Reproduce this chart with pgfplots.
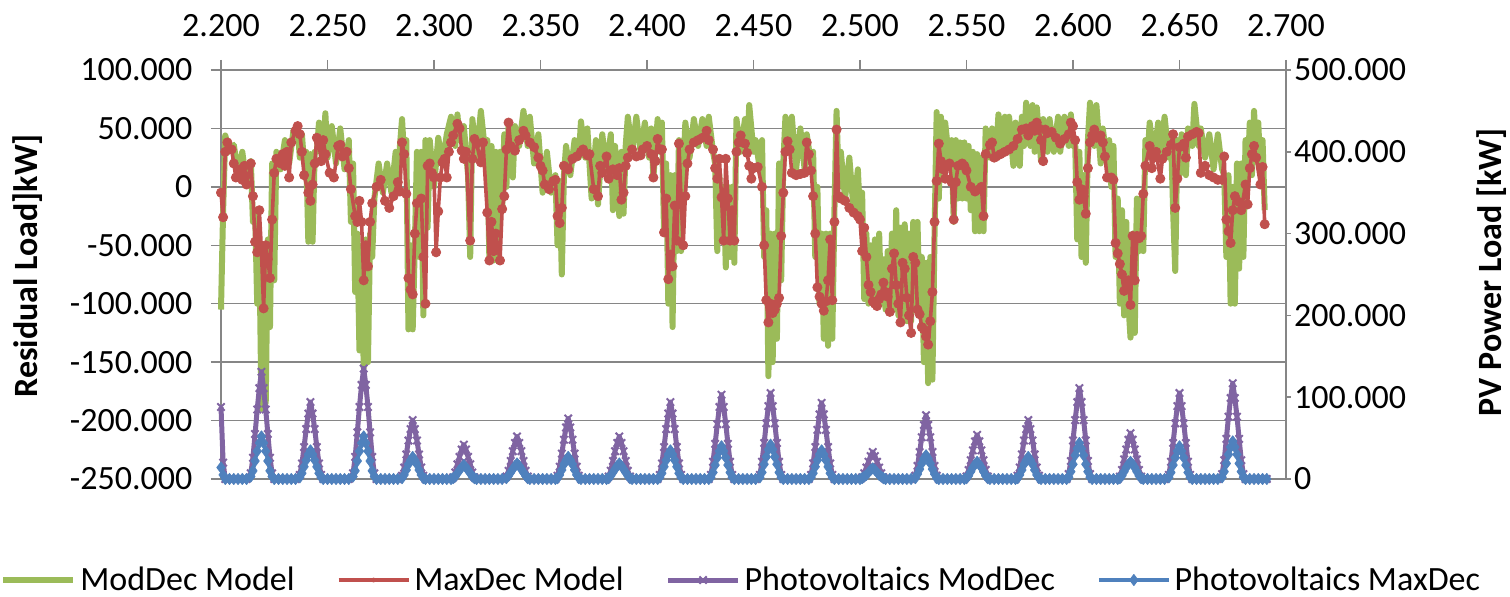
\documentclass[border=0pt]{standalone}
\usepackage{fontspec}
\setmainfont{Carlito}
\usepackage{pgfplots}
\usepackage{pgfplotstable}
\pgfplotsset{compat=1.18}

\definecolor{modgreen}{RGB}{155,187,89}
\definecolor{maxred}{RGB}{192,80,77}
\definecolor{pvpurple}{RGB}{128,100,162}
\definecolor{pvblue}{RGB}{79,129,189}
\definecolor{gridgray}{RGB}{134,134,134}

% hourly PV output, ModDec (p) and MaxDec (b), in kW
\pgfplotstableread{
h p b
2200 88000 14000
2201 20000 5000
2202 0 0
2204 0 0
2206 0 0
2208 0 0
2210 0 0
2212 0 0
2214 7000 3000
2215 26000 10000
2216 55000 22000
2217 85000 34000
2218 111000 44000
2219 131000 52000
2220 111000 44000
2221 85000 34000
2222 55000 22000
2223 26000 10000
2224 7000 3000
2225 0 0
2227 0 0
2229 0 0
2231 0 0
2233 0 0
2235 0 0
2237 5000 2000
2238 19000 7000
2239 39000 15000
2240 61000 23000
2241 80000 30000
2242 94000 35000
2243 80000 30000
2244 61000 23000
2245 39000 15000
2246 19000 7000
2247 5000 2000
2248 0 0
2250 0 0
2252 0 0
2254 0 0
2256 0 0
2258 0 0
2260 0 0
2262 7000 3000
2263 27000 10000
2264 57000 22000
2265 88000 34000
2266 115000 44000
2267 135000 52000
2268 115000 44000
2269 88000 34000
2270 57000 22000
2271 27000 10000
2272 7000 3000
2273 0 0
2275 0 0
2277 0 0
2279 0 0
2281 0 0
2283 0 0
2285 4000 1000
2286 14000 5000
2287 30000 11000
2288 47000 18000
2289 61000 23000
2290 72000 27000
2291 61000 23000
2292 47000 18000
2293 30000 11000
2294 14000 5000
2295 4000 1000
2296 0 0
2298 0 0
2300 0 0
2302 0 0
2304 0 0
2306 0 0
2308 0 0
2309 2000 1000
2310 8000 3000
2311 18000 7000
2312 27000 11000
2313 36000 14000
2314 42000 17000
2315 36000 14000
2316 27000 11000
2317 18000 7000
2318 8000 3000
2319 2000 1000
2320 0 0
2322 0 0
2324 0 0
2326 0 0
2328 0 0
2330 0 0
2332 0 0
2334 3000 1000
2335 10000 4000
2336 22000 8000
2337 34000 12000
2338 44000 16000
2339 52000 19000
2340 44000 16000
2341 34000 12000
2342 22000 8000
2343 10000 4000
2344 3000 1000
2345 0 0
2347 0 0
2349 0 0
2351 0 0
2353 0 0
2355 0 0
2357 0 0
2358 4000 1000
2359 15000 5000
2360 31000 11000
2361 48000 18000
2362 63000 23000
2363 74000 27000
2364 63000 23000
2365 48000 18000
2366 31000 11000
2367 15000 5000
2368 4000 1000
2369 0 0
2371 0 0
2373 0 0
2375 0 0
2377 0 0
2379 0 0
2381 0 0
2382 3000 1000
2383 10000 4000
2384 22000 8000
2385 34000 12000
2386 44000 16000
2387 52000 19000
2388 44000 16000
2389 34000 12000
2390 22000 8000
2391 10000 4000
2392 3000 1000
2393 0 0
2395 0 0
2397 0 0
2399 0 0
2401 0 0
2403 0 0
2405 0 0
2406 5000 2000
2407 19000 7000
2408 39000 15000
2409 61000 23000
2410 80000 30000
2411 94000 35000
2412 80000 30000
2413 61000 23000
2414 39000 15000
2415 19000 7000
2416 5000 2000
2417 0 0
2419 0 0
2421 0 0
2423 0 0
2425 0 0
2427 0 0
2429 0 0
2430 5000 2000
2431 21000 8000
2432 43000 17000
2433 67000 26000
2434 88000 34000
2435 103000 40000
2436 88000 34000
2437 67000 26000
2438 43000 17000
2439 21000 8000
2440 5000 2000
2441 0 0
2443 0 0
2445 0 0
2447 0 0
2449 0 0
2451 0 0
2453 5000 2000
2454 21000 8000
2455 44000 18000
2456 68000 27000
2457 89000 36000
2458 105000 42000
2459 89000 36000
2460 68000 27000
2461 44000 18000
2462 21000 8000
2463 5000 2000
2464 0 0
2466 0 0
2468 0 0
2470 0 0
2472 0 0
2474 0 0
2476 0 0
2477 5000 2000
2478 19000 7000
2479 39000 15000
2480 60000 23000
2481 79000 30000
2482 93000 35000
2483 79000 30000
2484 60000 23000
2485 39000 15000
2486 19000 7000
2487 5000 2000
2488 0 0
2490 0 0
2492 0 0
2494 0 0
2496 0 0
2498 0 0
2500 0 0
2501 2000 1000
2502 7000 3000
2503 14000 5000
2504 21000 8000
2505 28000 11000
2506 33000 13000
2507 28000 11000
2508 21000 8000
2509 14000 5000
2510 7000 3000
2511 2000 1000
2512 0 0
2514 0 0
2516 0 0
2518 0 0
2520 0 0
2522 0 0
2524 0 0
2526 4000 1000
2527 16000 6000
2528 33000 12000
2529 51000 19000
2530 66000 25000
2531 78000 29000
2532 66000 25000
2533 51000 19000
2534 33000 12000
2535 16000 6000
2536 4000 1000
2537 0 0
2539 0 0
2541 0 0
2543 0 0
2545 0 0
2547 0 0
2549 0 0
2550 3000 1000
2551 11000 4000
2552 23000 9000
2553 35000 14000
2554 46000 18000
2555 54000 21000
2556 46000 18000
2557 35000 14000
2558 23000 9000
2559 11000 4000
2560 3000 1000
2561 0 0
2563 0 0
2565 0 0
2567 0 0
2569 0 0
2571 0 0
2573 0 0
2574 4000 1000
2575 14000 5000
2576 30000 11000
2577 47000 18000
2578 61000 23000
2579 72000 27000
2580 61000 23000
2581 47000 18000
2582 30000 11000
2583 14000 5000
2584 4000 1000
2585 0 0
2587 0 0
2589 0 0
2591 0 0
2593 0 0
2595 0 0
2597 0 0
2598 6000 2000
2599 22000 9000
2600 47000 18000
2601 72000 29000
2602 94000 37000
2603 111000 44000
2604 94000 37000
2605 72000 29000
2606 47000 18000
2607 22000 9000
2608 6000 2000
2609 0 0
2611 0 0
2613 0 0
2615 0 0
2617 0 0
2619 0 0
2621 0 0
2622 3000 1000
2623 11000 4000
2624 24000 9000
2625 36000 14000
2626 48000 18000
2627 56000 21000
2628 48000 18000
2629 36000 14000
2630 24000 9000
2631 11000 4000
2632 3000 1000
2633 0 0
2635 0 0
2637 0 0
2639 0 0
2641 0 0
2643 0 0
2645 5000 2000
2646 21000 8000
2647 44000 17000
2648 68000 26000
2649 89000 34000
2650 105000 40000
2651 89000 34000
2652 68000 26000
2653 44000 17000
2654 21000 8000
2655 5000 2000
2656 0 0
2658 0 0
2660 0 0
2662 0 0
2664 0 0
2666 0 0
2668 0 0
2670 6000 2000
2671 23000 9000
2672 49000 19000
2673 76000 30000
2674 99000 39000
2675 117000 46000
2676 99000 39000
2677 76000 30000
2678 49000 19000
2679 23000 9000
2680 6000 2000
2681 0 0
2683 0 0
2685 0 0
2687 0 0
2689 0 0
2691 0 0
}\pvdata

\pgfplotsset{
  greenline/.style={modgreen, line width=3pt, line join=round, no markers},
  redline/.style={maxred, line width=1.8pt, line join=round, mark=*, mark size=2.3pt,
    mark options={fill=maxred, draw=maxred, line width=0.4pt}},
  purpleline/.style={pvpurple, line width=2.5pt, line join=round, mark=x, mark size=2.6pt,
    mark options={line width=1pt}},
  blueline/.style={pvblue, line width=1.8pt, line join=round, mark=diamond*, mark size=2.8pt,
    mark options={fill=pvblue, draw=pvblue, line width=0.4pt}},
  common/.style={
    at={(0,0)}, anchor=south west,
    width=532.5pt, height=204.5pt, scale only axis,
    xmin=2200, xmax=2700, clip=false,
    tick label style={font=\fontsize{17}{20}\selectfont},
    /pgf/number format/fixed,
    /pgf/number format/precision=0,
    /pgf/number format/1000 sep={.},
    /pgf/number format/assume math mode=true,
    scaled ticks=false,
    tick align=outside,
    axis line style={gridgray, line width=0.75pt},
    tick style={gridgray, line width=0.75pt},
  },
}

\begin{document}
\begin{tikzpicture}
\useasboundingbox (-110.5pt,-59pt) rectangle (644.5pt,239.5pt);

\begin{axis}[common,
  ymin=-250000, ymax=100000,
  ytick={-250000,-200000,-150000,-100000,-50000,0,50000,100000},
  xtick={2200,2250,2300,2350,2400,2450,2500,2550,2600,2650,2700},
  xtick pos=right, xticklabel pos=right,
  ytick pos=left, yticklabel pos=left,
  major tick length=5pt,
  ymajorgrids, grid style={gridgray, line width=0.75pt},
  xticklabel style={yshift=8pt},
  yticklabel style={xshift=-5.8pt},
  ylabel={Residual Load]kW]},
  ylabel style={at={(axis description cs:-0.1812,0.521)}, anchor=center,
    font=\bfseries\fontsize{17}{20}\selectfont},
]
\addplot[greenline] coordinates {
(2200,-105000)(2201,-20000)(2202,44000)(2204,30000)(2206,36000)(2208,12000)(2210,30000)(2212,2000)(2214,22000)(2215,-30000)(2216,-20000)(2217,-100000)(2218,-50000)(2219,-190000)(2220,-60000)(2221,-185000)(2222,-45000)(2223,-120000)(2224,20000)(2225,-80000)(2226,30000)(2228,15000)(2230,40000)(2232,20000)(2234,48000)(2236,52000)(2237,25000)(2238,45000)(2239,20000)(2240,30000)(2241,-47000)(2242,28000)(2243,-47000)(2244,30000)(2245,30000)(2246,55000)(2248,28000)(2249,63000)(2250,25000)(2252,52000)(2254,20000)(2256,50000)(2258,15000)(2260,40000)(2261,-30000)(2262,20000)(2263,-90000)(2264,-40000)(2265,-140000)(2266,-50000)(2267,-155000)(2268,-45000)(2269,-150000)(2270,-40000)(2271,-60000)(2272,-10000)(2274,20000)(2276,-5000)(2278,20000)(2280,-5000)(2282,30000)(2283,0)(2284,35000)(2285,58000)(2286,25000)(2287,40000)(2288,-122000)(2289,-50000)(2290,-122000)(2291,-50000)(2292,30000)(2293,-60000)(2294,30000)(2295,-110000)(2296,40000)(2297,-35000)(2298,40000)(2300,0)(2302,42000)(2304,20000)(2306,45000)(2308,60000)(2310,35000)(2311,62000)(2312,40000)(2314,52000)(2316,10000)(2317,-60000)(2318,58000)(2320,25000)(2322,65000)(2324,30000)(2325,40000)(2326,-63000)(2327,35000)(2328,-63000)(2329,30000)(2330,-63000)(2331,30000)(2332,-20000)(2333,45000)(2334,0)(2335,52000)(2337,8000)(2338,52000)(2340,35000)(2342,65000)(2344,35000)(2345,60000)(2347,20000)(2349,45000)(2351,-5000)(2353,30000)(2355,-5000)(2357,10000)(2358,-50000)(2359,5000)(2360,-75000)(2361,10000)(2362,35000)(2364,10000)(2366,40000)(2368,25000)(2369,56000)(2371,25000)(2372,50000)(2374,-10000)(2376,40000)(2377,-15000)(2379,45000)(2381,15000)(2383,45000)(2384,-20000)(2385,35000)(2387,-25000)(2388,30000)(2389,-23000)(2390,35000)(2391,60000)(2393,30000)(2395,60000)(2397,30000)(2399,55000)(2401,25000)(2402,50000)(2403,8000)(2405,58000)(2406,30000)(2407,55000)(2408,-40000)(2409,20000)(2410,-100000)(2411,10000)(2412,-120000)(2413,10000)(2414,-55000)(2415,40000)(2416,-55000)(2417,10000)(2418,55000)(2420,25000)(2422,58000)(2424,35000)(2426,58000)(2428,35000)(2429,60000)(2431,30000)(2432,20000)(2433,-55000)(2434,10000)(2435,-45000)(2436,0)(2437,-69000)(2438,0)(2439,-60000)(2440,0)(2441,-65000)(2442,58000)(2444,30000)(2446,58000)(2447,30000)(2448,70000)(2450,30000)(2451,40000)(2453,15000)(2454,40000)(2455,-60000)(2456,-20000)(2457,-162000)(2458,-40000)(2459,-150000)(2460,-40000)(2461,-130000)(2462,20000)(2463,-80000)(2464,20000)(2465,60000)(2467,30000)(2468,60000)(2470,15000)(2472,50000)(2474,15000)(2475,45000)(2477,20000)(2478,30000)(2479,-60000)(2480,0)(2481,-100000)(2482,-40000)(2483,-130000)(2484,-40000)(2485,-136000)(2486,-40000)(2487,-130000)(2488,-20000)(2489,65000)(2490,0)(2491,30000)(2493,-10000)(2495,25000)(2497,-20000)(2499,15000)(2500,-25000)(2501,-5000)(2502,-96000)(2503,-40000)(2504,-100000)(2505,-50000)(2506,-100000)(2507,-45000)(2508,-100000)(2509,-40000)(2510,-100000)(2511,-62000)(2512,-105000)(2513,-55000)(2514,-105000)(2515,-40000)(2516,-105000)(2517,-20000)(2518,-110000)(2519,-35000)(2520,-115000)(2521,-32000)(2522,-115000)(2523,-40000)(2524,-115000)(2525,-30000)(2526,-105000)(2527,-30000)(2528,-105000)(2529,-60000)(2530,-150000)(2531,-65000)(2532,-168000)(2533,-60000)(2534,-165000)(2535,-40000)(2536,64000)(2537,-10000)(2538,60000)(2539,20000)(2540,55000)(2542,20000)(2543,40000)(2544,-30000)(2545,40000)(2546,-10000)(2547,38000)(2548,-10000)(2549,38000)(2550,-10000)(2551,35000)(2552,-20000)(2553,30000)(2554,-38000)(2555,28000)(2556,-38000)(2557,25000)(2558,-38000)(2559,50000)(2561,25000)(2562,50000)(2564,30000)(2565,62000)(2567,30000)(2568,60000)(2569,30000)(2570,60000)(2572,18000)(2573,55000)(2575,18000)(2576,60000)(2577,35000)(2578,72000)(2580,35000)(2581,70000)(2582,30000)(2583,68000)(2585,22000)(2586,58000)(2588,30000)(2589,58000)(2591,30000)(2593,60000)(2594,30000)(2596,60000)(2598,35000)(2599,62000)(2600,35000)(2601,40000)(2602,-45000)(2603,30000)(2604,-60000)(2605,10000)(2606,-65000)(2607,40000)(2608,72000)(2610,35000)(2611,70000)(2613,20000)(2614,50000)(2616,20000)(2617,40000)(2618,0)(2619,35000)(2620,-60000)(2621,-10000)(2622,-100000)(2623,-20000)(2624,-110000)(2625,-30000)(2626,-100000)(2627,-129000)(2628,-40000)(2629,-125000)(2630,-10000)(2631,-55000)(2632,-10000)(2633,-55000)(2634,40000)(2635,25000)(2636,55000)(2638,25000)(2640,55000)(2641,25000)(2643,60000)(2645,25000)(2646,45000)(2647,-20000)(2648,-72000)(2649,40000)(2650,10000)(2651,45000)(2653,10000)(2654,50000)(2656,35000)(2657,71000)(2659,35000)(2660,50000)(2662,25000)(2664,45000)(2666,15000)(2668,45000)(2670,15000)(2671,10000)(2672,-60000)(2673,10000)(2674,-100000)(2675,0)(2676,-100000)(2677,20000)(2678,-70000)(2679,20000)(2680,-60000)(2681,40000)(2682,10000)(2683,55000)(2684,10000)(2685,65000)(2686,30000)(2687,55000)(2688,10000)(2689,40000)(2690,-20000)
};
\addplot[redline] coordinates {
(2200,-5000)(2201,-26000)(2202,30000)(2203,38000)(2205,32000)(2206,20000)(2207,8000)(2209,15000)(2210,6000)(2211,18000)(2212,2000)(2214,20000)(2215,-8000)(2216,-47000)(2217,-56000)(2218,-20000)(2219,-55000)(2220,-104000)(2221,-50000)(2222,-62000)(2223,-78000)(2224,-28000)(2225,12000)(2226,24000)(2228,20000)(2229,28000)(2230,18000)(2231,30000)(2232,8000)(2233,38000)(2235,48000)(2236,52000)(2237,45000)(2238,30000)(2239,10000)(2241,-5000)(2242,-12000)(2243,2000)(2244,20000)(2245,42000)(2246,38000)(2247,22000)(2248,40000)(2249,28000)(2251,12000)(2253,8000)(2255,35000)(2256,36000)(2257,26000)(2259,30000)(2260,16000)(2261,-2000)(2263,-25000)(2264,-30000)(2265,-12000)(2266,-30000)(2267,-80000)(2268,-50000)(2269,-68000)(2270,-30000)(2271,-14000)(2273,0)(2275,6000)(2277,-12000)(2279,-18000)(2281,-8000)(2283,4000)(2284,-4000)(2285,38000)(2286,28000)(2287,-6000)(2288,-78000)(2289,-88000)(2290,-92000)(2291,-40000)(2292,-14000)(2294,-10000)(2295,-60000)(2296,-100000)(2297,18000)(2298,20000)(2299,12000)(2300,8000)(2301,-56000)(2302,-21000)(2303,8000)(2304,21000)(2305,24000)(2306,8000)(2307,30000)(2308,38000)(2309,44000)(2311,54000)(2312,50000)(2313,31000)(2314,24000)(2315,30000)(2317,-46000)(2318,24000)(2319,41000)(2320,37000)(2322,21000)(2323,38000)(2325,-22000)(2326,-63000)(2327,-30000)(2328,-55000)(2329,-40000)(2331,-63000)(2332,-19000)(2333,-8000)(2334,32000)(2335,55000)(2336,35000)(2338,31000)(2340,40000)(2342,48000)(2343,44000)(2345,38000)(2347,34000)(2349,25000)(2350,18000)(2351,14000)(2352,2000)(2354,-2000)(2356,5000)(2357,6000)(2358,-25000)(2359,-31000)(2360,-18000)(2361,18000)(2363,15000)(2365,24000)(2367,26000)(2369,30000)(2370,32000)(2372,27000)(2373,28000)(2375,-2000)(2377,-8000)(2378,18000)(2379,12000)(2381,26000)(2382,7000)(2384,15000)(2386,10000)(2387,16000)(2388,-11000)(2389,-5000)(2390,18000)(2391,25000)(2393,32000)(2395,26000)(2397,27000)(2398,32000)(2400,35000)(2402,28000)(2403,8000)(2404,22000)(2405,41000)(2406,32000)(2407,32000)(2408,-39000)(2409,-10000)(2410,-79000)(2411,-58000)(2412,-68000)(2413,-16000)(2414,-46000)(2415,37000)(2416,-10000)(2417,-50000)(2418,-8000)(2419,20000)(2420,32000)(2422,38000)(2424,40000)(2426,42000)(2428,48000)(2429,40000)(2431,32000)(2432,16000)(2433,7000)(2434,24000)(2435,-9000)(2436,-46000)(2437,24000)(2438,-10000)(2439,-46000)(2440,-20000)(2441,-46000)(2442,30000)(2443,38000)(2444,44000)(2446,37000)(2447,29000)(2448,18000)(2449,7000)(2450,16000)(2452,17000)(2454,0)(2455,-50000)(2456,-97000)(2457,-116000)(2458,-100000)(2459,-108000)(2460,-105000)(2461,-100000)(2462,-95000)(2463,-42000)(2464,-5000)(2465,30000)(2466,39000)(2467,32000)(2468,12000)(2470,10000)(2472,11000)(2474,12000)(2475,38000)(2476,28000)(2477,14000)(2478,-8000)(2479,-40000)(2480,-86000)(2481,-94000)(2482,-100000)(2483,-106000)(2484,-98000)(2485,-80000)(2486,-45000)(2487,-97000)(2488,-30000)(2489,49000)(2490,-8000)(2491,-10000)(2493,-12000)(2495,-18000)(2497,-22000)(2499,-25000)(2500,-28000)(2501,-55000)(2502,-35000)(2503,-60000)(2504,-84000)(2505,-90000)(2506,-98000)(2507,-100000)(2508,-102000)(2509,-96000)(2510,-92000)(2511,-82000)(2512,-90000)(2513,-94000)(2514,-107000)(2515,-70000)(2516,-57000)(2517,-84000)(2518,-100000)(2519,-116000)(2520,-65000)(2521,-70000)(2522,-95000)(2523,-110000)(2524,-125000)(2525,-60000)(2526,-65000)(2527,-105000)(2528,-109000)(2529,-120000)(2530,-122000)(2531,-128000)(2532,-135000)(2533,-115000)(2534,-90000)(2535,-30000)(2536,5000)(2537,37000)(2538,22000)(2539,15000)(2540,7000)(2541,18000)(2542,20000)(2543,4000)(2544,-28000)(2545,4000)(2546,18000)(2548,20000)(2549,18000)(2550,14000)(2552,0)(2554,-4000)(2556,-2000)(2557,0)(2558,-25000)(2559,28000)(2561,36000)(2562,38000)(2563,25000)(2564,26000)(2566,28000)(2568,30000)(2570,32000)(2572,35000)(2574,41000)(2576,49000)(2578,50000)(2579,44000)(2581,52000)(2582,48000)(2583,55000)(2584,50000)(2585,40000)(2586,22000)(2587,49000)(2588,46000)(2590,47000)(2592,42000)(2594,37000)(2596,41000)(2598,45000)(2599,55000)(2600,52000)(2601,40000)(2602,4000)(2603,-11000)(2604,-2000)(2605,-8000)(2606,-23000)(2607,16000)(2608,38000)(2609,44000)(2610,49000)(2611,42000)(2613,44000)(2614,38000)(2615,26000)(2616,8000)(2618,8000)(2619,6000)(2620,-48000)(2621,-57000)(2622,-66000)(2623,-75000)(2624,-89000)(2625,-82000)(2626,-80000)(2627,-101000)(2628,-42000)(2629,-80000)(2630,-42000)(2631,-44000)(2632,-42000)(2633,-6000)(2634,18000)(2636,35000)(2637,16000)(2638,25000)(2639,30000)(2641,7000)(2642,24000)(2644,30000)(2646,36000)(2647,45000)(2648,-18000)(2649,7000)(2650,34000)(2652,37000)(2653,25000)(2654,43000)(2656,45000)(2658,47000)(2659,46000)(2660,12000)(2662,18000)(2664,10000)(2666,8000)(2668,6000)(2670,6000)(2671,26000)(2672,-28000)(2673,-38000)(2674,-48000)(2675,-20000)(2676,-8000)(2678,-13000)(2679,-20000)(2681,2000)(2682,-15000)(2683,16000)(2684,28000)(2685,35000)(2686,25000)(2688,2000)(2689,17000)(2690,-32000)
};
\end{axis}

\begin{axis}[common,
  ymin=0, ymax=500000,
  ytick={0,100000,200000,300000,400000,500000},
  axis x line=none,
  axis y line*=right,
  ytick pos=right, yticklabel pos=right,
  major tick length=2.5pt,
  yticklabel style={xshift=-2pt},
  ylabel={PV Power Load [kW]},
  ylabel style={at={(axis description cs:1.1934,0.505)}, anchor=center,
    font=\bfseries\fontsize{17}{20}\selectfont},
  legend columns=4,
  legend style={at={(axis description cs:-0.2075,-0.247)}, anchor=west,
    draw=none, fill=none, inner sep=0pt, font=\fontsize{17}{20}\selectfont,
    /tikz/every even column/.append style={column sep=19pt}},
  legend image code/.code={
    \draw[mark repeat=2,mark phase=2,#1] plot coordinates {(0pt,0pt) (17.5pt,0pt) (35pt,0pt)};},
]
\addlegendimage{greenline}
\addlegendentry{ModDec Model}
\addlegendimage{redline, mark size=1pt}
\addlegendentry{MaxDec Model}
\addplot[purpleline] table[x=h, y=p] {\pvdata};
\addlegendentry{Photovoltaics ModDec}
\addplot[blueline] table[x=h, y=b] {\pvdata};
\addlegendentry{Photovoltaics MaxDec}
\end{axis}
\end{tikzpicture}
\end{document}
